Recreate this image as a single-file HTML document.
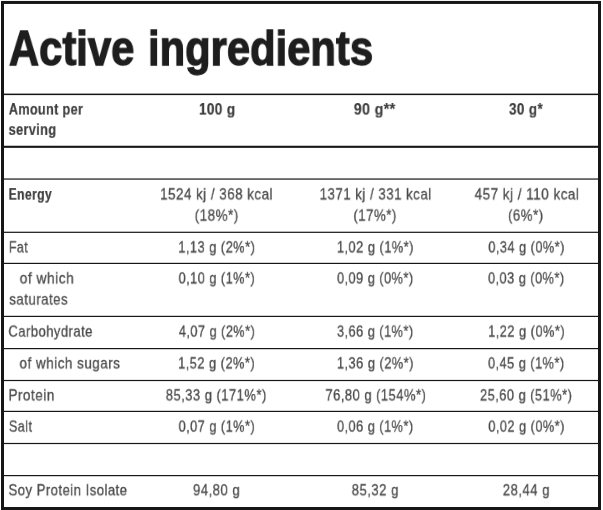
<!DOCTYPE html>
<html lang="en"><head><meta charset="utf-8"><title>Active ingredients</title>
<style>
html,body{margin:0;padding:0;background:#fff}
body{width:603px;height:510px;position:relative;overflow:hidden;font-family:"Liberation Sans",sans-serif}
svg{position:absolute;left:0;top:0}
.t{will-change:transform;position:absolute;white-space:nowrap;line-height:1;transform-origin:0 0;font-size:16.4px;color:#4a4a4a;letter-spacing:0.6px;-webkit-text-stroke:0.3px #4a4a4a}
.b{font-weight:700;color:#3e3e3e;letter-spacing:0.4px;-webkit-text-stroke:0.2px #3e3e3e}
.ti{font-weight:700;color:#1e1e1e;font-size:50px;letter-spacing:0px;-webkit-text-stroke:1.3px #1e1e1e}
</style></head><body>
<svg class="grid" width="603" height="510" viewBox="0 0 603 510">
<rect x="2.5" y="2.45" width="597" height="506.05" fill="none" stroke="#161616" stroke-width="3"/>
<rect x="3" y="93.60" width="596" height="1.5" fill="#161616"/>
<rect x="3" y="145.75" width="596" height="2.1" fill="#161616"/>
<rect x="3" y="178.45" width="596" height="1.2" fill="#161616"/>
<rect x="3" y="231.70" width="596" height="1.2" fill="#161616"/>
<rect x="3" y="262.80" width="596" height="1.2" fill="#161616"/>
<rect x="3" y="315.80" width="596" height="1.2" fill="#161616"/>
<rect x="3" y="348.00" width="596" height="1.2" fill="#161616"/>
<rect x="3" y="379.90" width="596" height="1.2" fill="#161616"/>
<rect x="3" y="410.80" width="596" height="1.2" fill="#161616"/>
<rect x="3" y="442.90" width="596" height="1.2" fill="#161616"/>
<rect x="3" y="475.00" width="596" height="1.2" fill="#161616"/>
</svg>
<span class="t ti" style="left:8px;top:24px;transform:translate(0.90px,0.10px) scale(0.8360,0.976)">Active</span>
<span class="t ti" style="left:148px;top:24px;transform:translate(0.00px,0.10px) scale(0.8350,0.976)">ingredients</span>
<span class="t b" style="left:8px;top:101px;transform:translate(0.80px,0.07px) scale(0.7746,0.965)">Amount per</span>
<span class="t b" style="left:8px;top:121px;transform:translate(0.60px,0.37px) scale(0.7819,0.965)">serving</span>
<span class="t b" style="left:198px;top:101px;transform:translate(0.90px,0.07px) scale(0.8322,0.965)">100 g</span>
<span class="t b" style="left:353px;top:101px;transform:translate(0.80px,0.07px) scale(0.8683,0.965)">90 g**</span>
<span class="t b" style="left:509px;top:101px;transform:translate(0.00px,0.07px) scale(0.8246,0.965)">30 g*</span>
<span class="t b" style="left:8px;top:186px;transform:translate(0.60px,0.17px) scale(0.7491,0.965)">Energy</span>
<span class="t" style="left:160px;top:186px;transform:translate(0.10px,0.38px) scale(0.8159,0.935)">1524 kj / 368 kcal</span>
<span class="t" style="left:194px;top:207px;transform:translate(0.70px,0.58px) scale(0.8188,0.935)">(18%*)</span>
<span class="t" style="left:319px;top:186px;transform:translate(0.60px,0.38px) scale(0.8100,0.935)">1371 kj / 331 kcal</span>
<span class="t" style="left:353px;top:207px;transform:translate(0.40px,0.58px) scale(0.8061,0.935)">(17%*)</span>
<span class="t" style="left:474px;top:186px;transform:translate(0.60px,0.38px) scale(0.8219,0.935)">457 kj / 110 kcal</span>
<span class="t" style="left:508px;top:207px;transform:translate(0.00px,0.58px) scale(0.8082,0.935)">(6%*)</span>
<span class="t" style="left:8px;top:239px;transform:translate(0.90px,0.38px) scale(0.7588,0.935)">Fat</span>
<span class="t" style="left:178px;top:239px;transform:translate(0.30px,0.38px) scale(0.7834,0.935)">1,13 g (2%*)</span>
<span class="t" style="left:336px;top:239px;transform:translate(0.90px,0.38px) scale(0.7834,0.935)">1,02 g (1%*)</span>
<span class="t" style="left:488px;top:239px;transform:translate(0.30px,0.38px) scale(0.7788,0.935)">0,34 g (0%*)</span>
<span class="t" style="left:19px;top:270px;transform:translate(0.70px,0.38px) scale(0.8396,0.935)">of which</span>
<span class="t" style="left:9px;top:291px;transform:translate(0.30px,0.48px) scale(0.8074,0.935)">saturates</span>
<span class="t" style="left:178px;top:270px;transform:translate(0.60px,0.38px) scale(0.7788,0.935)">0,10 g (1%*)</span>
<span class="t" style="left:337px;top:270px;transform:translate(0.00px,0.38px) scale(0.7788,0.935)">0,09 g (0%*)</span>
<span class="t" style="left:488px;top:270px;transform:translate(0.00px,0.38px) scale(0.7788,0.935)">0,03 g (0%*)</span>
<span class="t" style="left:8px;top:323px;transform:translate(0.40px,0.58px) scale(0.7930,0.935)">Carbohydrate</span>
<span class="t" style="left:178px;top:323px;transform:translate(0.90px,0.58px) scale(0.7765,0.935)">4,07 g (2%*)</span>
<span class="t" style="left:337px;top:323px;transform:translate(0.00px,0.58px) scale(0.7788,0.935)">3,66 g (1%*)</span>
<span class="t" style="left:488px;top:323px;transform:translate(0.10px,0.58px) scale(0.7834,0.935)">1,22 g (0%*)</span>
<span class="t" style="left:19px;top:355px;transform:translate(0.50px,0.38px) scale(0.8215,0.935)">of which sugars</span>
<span class="t" style="left:178px;top:355px;transform:translate(0.10px,0.38px) scale(0.7834,0.935)">1,52 g (2%*)</span>
<span class="t" style="left:336px;top:355px;transform:translate(0.90px,0.38px) scale(0.7834,0.935)">1,36 g (2%*)</span>
<span class="t" style="left:488px;top:355px;transform:translate(0.00px,0.38px) scale(0.7788,0.935)">0,45 g (1%*)</span>
<span class="t" style="left:8px;top:387px;transform:translate(0.50px,0.38px) scale(0.8236,0.935)">Protein</span>
<span class="t" style="left:165px;top:387px;transform:translate(0.80px,0.38px) scale(0.7916,0.935)">85,33 g (171%*)</span>
<span class="t" style="left:325px;top:387px;transform:translate(0.40px,0.38px) scale(0.7914,0.935)">76,80 g (154%*)</span>
<span class="t" style="left:480px;top:387px;transform:translate(0.00px,0.38px) scale(0.7840,0.935)">25,60 g (51%*)</span>
<span class="t" style="left:8px;top:418px;transform:translate(0.90px,0.58px) scale(0.7689,0.935)">Salt</span>
<span class="t" style="left:178px;top:418px;transform:translate(0.60px,0.58px) scale(0.7788,0.935)">0,07 g (1%*)</span>
<span class="t" style="left:337px;top:418px;transform:translate(0.00px,0.58px) scale(0.7788,0.935)">0,06 g (1%*)</span>
<span class="t" style="left:488px;top:418px;transform:translate(0.30px,0.58px) scale(0.7788,0.935)">0,02 g (0%*)</span>
<span class="t" style="left:8px;top:482px;transform:translate(0.50px,0.28px) scale(0.7985,0.935)">Soy Protein Isolate</span>
<span class="t" style="left:193px;top:482px;transform:translate(0.00px,0.28px) scale(0.7999,0.935)">94,80 g</span>
<span class="t" style="left:351px;top:482px;transform:translate(0.70px,0.28px) scale(0.8000,0.935)">85,32 g</span>
<span class="t" style="left:502px;top:482px;transform:translate(0.80px,0.28px) scale(0.7995,0.935)">28,44 g</span>
</body></html>
